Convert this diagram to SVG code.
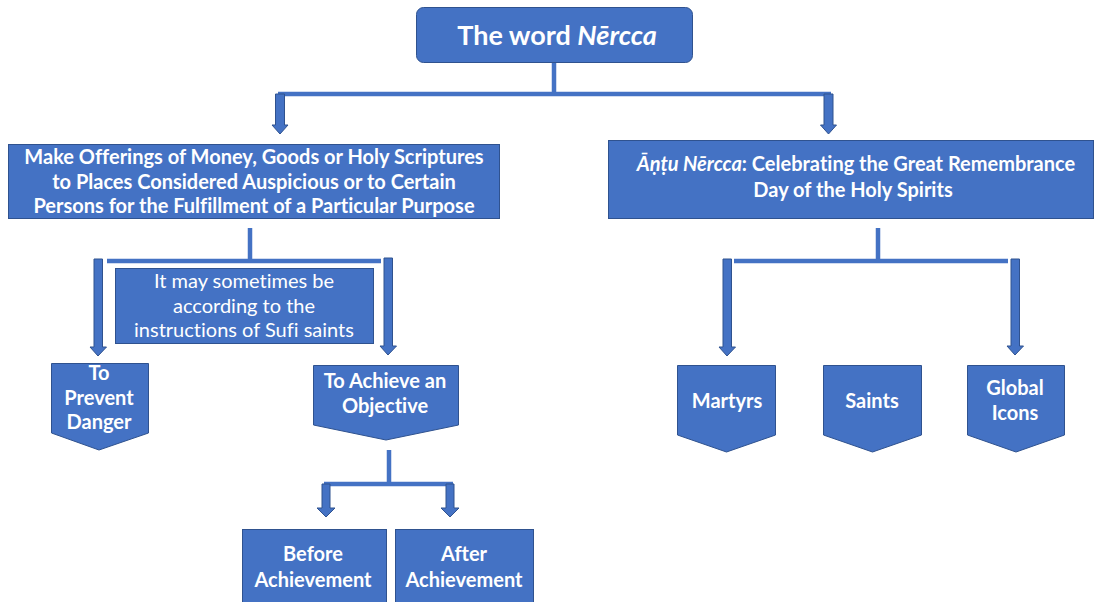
<svg xmlns="http://www.w3.org/2000/svg" width="1094" height="602" viewBox="0 0 1094 602">
  <style>
    .box { fill: #4472C4; stroke: #2F528F; stroke-width: 1; }
    .line { stroke: #4472C4; stroke-width: 4.5; fill: none; }
    .arrow { fill: #4472C4; stroke: #2F528F; stroke-width: 1; }
    .t { fill: #FFFFFF; font-family: Lato, "Liberation Sans", sans-serif; text-anchor: middle; font-variant-ligatures: none; }
    .b { font-weight: bold; font-size: 20px; }
    .n { font-weight: normal; font-size: 20px; }
  </style>
  <rect width="1094" height="602" fill="#FFFFFF"/>

  <!-- connectors -->
  <g id="connectors">
    <!-- root split -->
    <path class="line" d="M554 62 V94 M278 94 H831"/>
    <polygon class="arrow" points="275.5,94 284.5,94 284.5,125 288,125 280,134 272,125 275.5,125"/>
    <polygon class="arrow" points="824,94 833,94 833,125 836.5,125 828.5,134 820.5,125 824,125"/>
    <!-- left branch split -->
    <path class="line" d="M250 228 V261 M107 261 H381"/>
    <polygon class="arrow" points="94,259 102.5,259 102.5,347 106.5,347 98,356 90,347 94,347"/>
    <polygon class="arrow" points="384,258 392.5,258 392.5,346 396.5,346 388,355 380,346 384,346"/>
    <!-- objective split -->
    <path class="line" d="M389 450 V484 M324 484 H453"/>
    <polygon class="arrow" points="322,484 330,484 330,508 335,508 326,517 317,508 322,508"/>
    <polygon class="arrow" points="446,484 454,484 454,508 459,508 450,517 441,508 446,508"/>
    <!-- right branch split -->
    <path class="line" d="M878 228 V261 M734 261 H1008"/>
    <polygon class="arrow" points="723,259 731.5,259 731.5,347 735.5,347 727,356 719,347 723,347"/>
    <polygon class="arrow" points="1011,259 1019.5,259 1019.5,346 1023.5,346 1015,355 1007,346 1011,346"/>
  </g>

  <g id="root">
    <rect class="box" x="416.5" y="7.5" width="276" height="55" rx="7"/>
    <text class="t" x="557" y="45" font-size="27" font-weight="bold">The word <tspan font-style="italic">Nērcca</tspan></text>
  </g>

  <g id="offerings">
    <rect class="box" x="8.5" y="144.5" width="491" height="74"/>
    <text class="t b" x="254" y="164">Make Offerings of Money, Goods or Holy Scriptures</text>
    <text class="t b" x="254" y="188.5">to Places Considered Auspicious or to Certain</text>
    <text class="t b" x="254" y="213">Persons for the Fulfillment of a Particular Purpose</text>
  </g>

  <g id="antu-nercca">
    <rect class="box" x="608.5" y="140.5" width="485" height="78"/>
    <text class="t b" x="856" y="171"><tspan font-style="italic">Āṇṭu Nērcca</tspan>: Celebrating the Great Remembrance</text>
    <text class="t b" x="853" y="197">Day of the Holy Spirits</text>
  </g>

  <g id="sufi-note">
    <rect class="box" x="115.5" y="268.5" width="258" height="75"/>
    <text class="t n" x="244" y="288">It may sometimes be</text>
    <text class="t n" x="244" y="313">according to the</text>
    <text class="t n" x="244" y="337">instructions of Sufi saints</text>
  </g>

  <g id="prevent-danger">
    <polygon class="box" points="51.5,363.5 148.5,363.5 148.5,433 99,450 51.5,433"/>
    <text class="t b" x="99" y="380">To</text>
    <text class="t b" x="99" y="405">Prevent</text>
    <text class="t b" x="99" y="429">Danger</text>
  </g>

  <g id="achieve-objective">
    <polygon class="box" points="313.5,365.5 458.5,365.5 458.5,425 386,440 313.5,425"/>
    <text class="t b" x="385" y="388">To Achieve an</text>
    <text class="t b" x="385" y="413">Objective</text>
  </g>

  <g id="before-achievement">
    <rect class="box" x="242.5" y="529.5" width="144" height="80"/>
    <text class="t b" x="313" y="561">Before</text>
    <text class="t b" x="313" y="587">Achievement</text>
  </g>

  <g id="after-achievement">
    <rect class="box" x="395.5" y="529.5" width="138" height="80"/>
    <text class="t b" x="464" y="561">After</text>
    <text class="t b" x="464" y="587">Achievement</text>
  </g>

  <g id="martyrs">
    <polygon class="box" points="677.5,365.5 775.5,365.5 775.5,435 726.5,452 677.5,435"/>
    <text class="t b" x="727" y="408">Martyrs</text>
  </g>

  <g id="saints">
    <polygon class="box" points="823.5,365.5 921.5,365.5 921.5,435 872.5,452 823.5,435"/>
    <text class="t b" x="872" y="408">Saints</text>
  </g>

  <g id="global-icons">
    <polygon class="box" points="967.5,365.5 1064.5,365.5 1064.5,435 1016,452 967.5,435"/>
    <text class="t b" x="1015" y="395">Global</text>
    <text class="t b" x="1015" y="420">Icons</text>
  </g>
</svg>
